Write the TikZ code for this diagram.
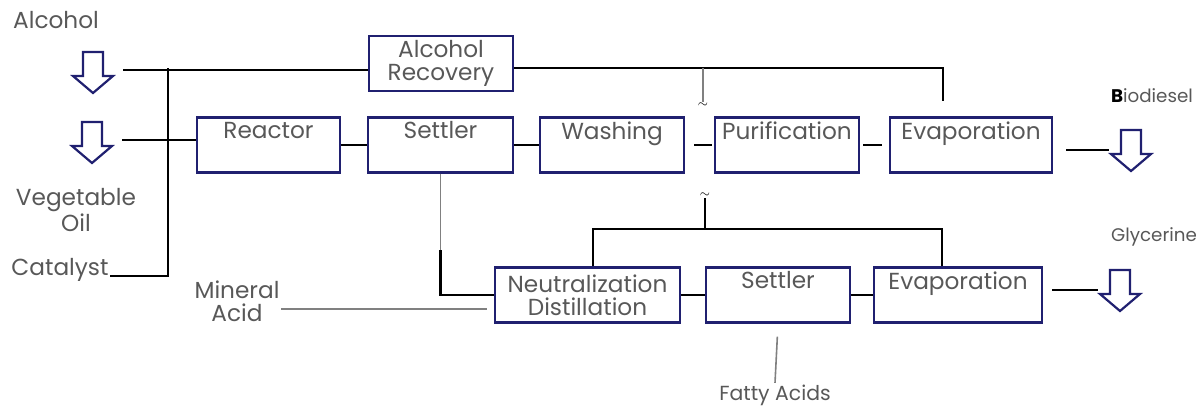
\documentclass[tikz,border=0pt]{standalone}
\usepackage{fontspec}
\setmainfont{Poppins}

\definecolor{boxblue}{RGB}{32,32,112}
\definecolor{txtgray}{RGB}{88,88,88}

\tikzset{
  unit/.style={draw=boxblue, line width=0.6mm, minimum height=13.75mm,
    align=center, text=txtgray, inner sep=0pt},
  feed/.style={text=txtgray, align=center, inner sep=1pt},
  product/.style={feed, font=\fontsize{13}{16}\selectfont},
  pipe/.style={line width=0.55mm},
  thinpipe/.style={line width=0.4mm, color=gray},
  hollow/.pic={
    \draw[boxblue, line width=0.55mm, fill=white]
      (-10,-20) -- (10,-20) -- (10,4) -- (20,4) -- (0,21) -- (-20,4) -- (-10,4) -- cycle;
    \coordinate (-r) at (30,-2);
    \coordinate (-l) at (-22,0);
  },
}

\begin{document}
\begin{tikzpicture}[%
      x=0.25mm, y=-0.25mm,
      font=\fontsize{16.5}{16.5}\selectfont,
      ]
      \useasboundingbox (0,0) rectangle (1198,408);

      % process units, upper line
      \node[unit, minimum width=36mm] (recovery) at (441,63.5) {Alcohol\\Recovery};
      \node[unit, minimum width=35.75mm] (reactor) at (268.5,145) {Reactor\\\phantom{g}};
      \node[unit, minimum width=36.25mm] (settlerA) at (440.5,145) {Settler\\\phantom{g}};
      \node[unit, minimum width=36mm] (washing) at (612,145) {Washing\\\phantom{g}};
      \node[unit, minimum width=36mm] (purif) at (787,145) {Purification\\\phantom{g}};
      \node[unit, minimum width=40.5mm] (evapA) at (971,145) {Evaporation\\\phantom{g}};

      % process units, lower line
      \node[unit, minimum width=46.25mm] (neutral) at (587.5,295) {Neutralization\\Distillation};
      \node[unit, minimum width=36mm] (settlerB) at (778,295) {Settler\\\phantom{g}};
      \node[unit, minimum width=42mm] (evapB) at (958,295) {Evaporation\\\phantom{g}};

      % feeds and products
      \node[feed] (alcohol) at (56,20) {Alcohol};
      \node[feed] (vegoil) at (76,210) {Vegetable\\Oil};
      \node[feed] (catalyst) at (60,270) {Catalyst};
      \node[feed] (mineral) at (237,301) {Mineral\\Acid};
      \node[product] (biodiesel) at (1152,96) {\textbf{\color{black}B}iodiesel};
      \node[product] (glycerine) at (1154,237) {Glycerine};
      \node[feed, font=\fontsize{14.5}{16}\selectfont] (fatty) at (775,395) {Fatty Acids};
      \node[font=\small, inner sep=0.5pt] (tilA) at (703,105) {$\sim$};
      \node[font=\small, inner sep=0.5pt] (tilB) at (705,195) {$\sim$};

      \pic (inA) at (93,72) {hollow};
      \pic (inB) at (92,142) {hollow};
      \pic (outA) at (1131,150) {hollow};
      \pic (outB) at (1120,290) {hollow};

      \coordinate (jA) at (168,68);
      \coordinate (jB) at (943,68);
      \coordinate (jC) at (703,68);
      \coordinate (kA) at (436,250);
      \coordinate (bA) at (593,229);
      \coordinate (bB) at (942,229);

      % feed lines
      \draw[pipe] (inA-r) -- (inA-r -| recovery.west);
      \draw[pipe] ([yshift=-1.5mm]catalyst.east) -| (jA);
      \draw[pipe] (inB-r) -- (inB-r -| reactor.west);

      % main line
      \draw[pipe] (reactor) -- (settlerA);
      \draw[pipe] (settlerA) -- (washing);
      \draw[pipe, shorten <=2.2mm, shorten >=0.5mm] (washing) -- (purif);
      \draw[pipe, shorten <=0.8mm, shorten >=1.8mm] (purif) -- (evapA);
      \draw[pipe, shorten <=3.2mm] (outA-l -| evapA.east) -- (outA-l);

      % alcohol recycle
      \draw[pipe, shorten >=3.75mm] (recovery.east |- jB) -- (jB) -- (jB |- evapA.north);
      \draw[thinpipe] (jC) -- (tilA.north);

      % glycerine line
      \draw[thinpipe] (settlerA.south) -- (settlerA.south |- kA);
      \draw[pipe] (settlerA.south |- kA) |- (neutral.west);
      \draw[thinpipe, shorten >=1.75mm] ([yshift=-2mm]mineral.east) -- ([yshift=-2mm]mineral.east -| neutral.west);
      \draw[pipe] (neutral) -- (settlerB);
      \draw[pipe] (settlerB) -- (evapB);
      \draw[pipe] (bA |- neutral.north) -- (bA) -- (bB) -- (bB |- evapB.north);
      \draw[pipe] (tilB.south) -- (tilB.south |- bA);
      \draw[pipe, shorten <=2.25mm] (outB-l -| evapB.east) -- (outB-l);
      \draw[thinpipe, shorten <=3.25mm] (settlerB.south) -- (fatty.north);
\end{tikzpicture}
\end{document}
